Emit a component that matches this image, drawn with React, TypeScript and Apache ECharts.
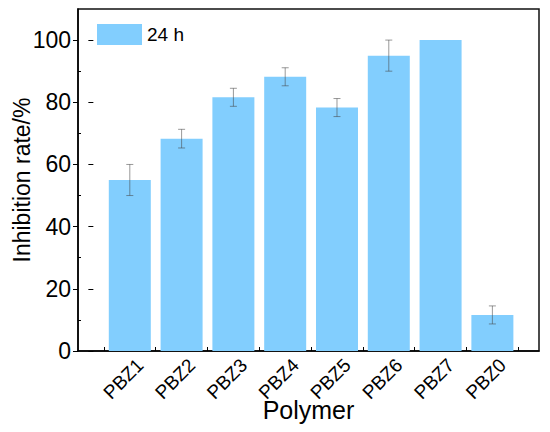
import React, { useEffect, useRef } from "react";
import * as echarts from "echarts";

const categories = ["PBZ1", "PBZ2", "PBZ3", "PBZ4", "PBZ5", "PBZ6", "PBZ7", "PBZ0"];
const values = [55.0, 68.3, 81.6, 88.2, 78.3, 95.0, 100.0, 11.6];
const errors = [5.0, 3.0, 2.9, 2.9, 2.9, 5.0, 0, 2.9];
const yMajorTicks = [0, 20, 40, 60, 80, 100];
const yMinorTicks = [10, 30, 50, 70, 90];
const seriesName = "24 h";

const FONT = "'Liberation Sans', Arial, Helvetica, sans-serif";
const BAR_COLOR = "#82CEFE";

export default function App() {
  const ref = useRef<HTMLDivElement>(null);

  useEffect(() => {
    if (!ref.current) return;
    const chart = echarts.init(ref.current, null, { renderer: "svg" });

    const positions = categories.map((_, i) => i + 1);
    const boundaries = [0, ...positions].map((p) => p + 0.5);
    const barData = values.map((v, i) => [positions[i], v]);
    const errData = values.map((v, i) => [positions[i], v, errors[i]]);
    const labelShift = 0.2; // rotated labels sit slightly right of bar centres, as in the reference

    const option: any = {
      animation: false,
      backgroundColor: "#fff",
      textStyle: { fontFamily: FONT },
      grid: {
        left: 78,
        right: 11,
        top: 9,
        bottom: 81,
        show: true,
        borderColor: "#111",
        borderWidth: 1.5,
        backgroundColor: "transparent",
        outerBoundsMode: "none",
        containLabel: false,
      },
      legend: {
        left: 92,
        top: 19,
        itemWidth: 45,
        itemHeight: 21,
        itemGap: 6,
        textStyle: { fontSize: 19, color: "#000", fontFamily: FONT },
        data: [{ name: seriesName, icon: "rect" }],
      },
      xAxis: [
        {
          type: "value",
          min: 0,
          max: 8.9,
          name: "Polymer",
          nameLocation: "middle",
          nameGap: 46,
          nameMoveOverlap: false,
          nameTextStyle: { fontSize: 25, color: "#000", fontFamily: FONT },
          axisLine: { show: true, lineStyle: { color: "#000", width: 1.5 } },
          axisTick: {
            show: true,
            inside: true,
            length: 4,
            customValues: boundaries,
            lineStyle: { color: "#000", width: 1 },
          },
          axisLabel: { show: false },
          splitLine: { show: false },
        },
        {
          type: "value",
          min: -labelShift,
          max: 8.9 - labelShift,
          position: "bottom",
          axisLine: { show: false },
          axisTick: { show: false },
          axisLabel: {
            show: true,
            customValues: positions,
            formatter: (v: number) => categories[Math.round(v) - 1] ?? "",
            rotate: 45,
            fontSize: 19,
            color: "#000",
            margin: 11,
            fontFamily: FONT,
          },
          splitLine: { show: false },
        },
      ],
      yAxis: [
        {
          type: "value",
          min: 0,
          max: 110,
          name: "Inhibition rate/%",
          nameLocation: "middle",
          nameGap: 45,
          nameMoveOverlap: false,
          nameTextStyle: { fontSize: 23, color: "#000", fontFamily: FONT },
          axisLine: { show: true, lineStyle: { color: "#000", width: 1.5 } },
          axisTick: {
            show: true,
            inside: false,
            length: 5,
            customValues: yMajorTicks,
            lineStyle: { color: "#000", width: 1 },
          },
          axisLabel: {
            customValues: yMajorTicks,
            fontSize: 23,
            color: "#000",
            margin: 7,
            fontFamily: FONT,
          },
          splitLine: { show: false },
        },
        {
          type: "value",
          min: 0,
          max: 110,
          position: "left",
          axisLine: { show: false },
          axisTick: {
            show: true,
            inside: true,
            length: 5,
            customValues: yMajorTicks,
            lineStyle: { color: "#000", width: 1 },
          },
          axisLabel: { show: false },
          splitLine: { show: false },
        },
        {
          type: "value",
          min: 0,
          max: 110,
          position: "left",
          axisLine: { show: false },
          axisTick: {
            show: true,
            inside: true,
            length: 3,
            customValues: yMinorTicks,
            lineStyle: { color: "#000", width: 1 },
          },
          axisLabel: { show: false },
          splitLine: { show: false },
        },
      ],
      series: [
        {
          name: seriesName,
          type: "bar",
          xAxisIndex: 0,
          data: barData,
          barWidth: 42,
          itemStyle: { color: BAR_COLOR },
        },
        {
          name: "err",
          type: "custom",
          xAxisIndex: 0,
          data: errData,
          z: 5,
          renderItem: (params: any, api: any) => {
            const x = api.value(0);
            const y = api.value(1);
            const e = api.value(2);
            if (!e) return { type: "group", children: [] };
            const top = api.coord([x, y + e]);
            const bot = api.coord([x, y - e]);
            const cap = 3.5;
            const style = { stroke: "rgba(70,70,70,0.55)", lineWidth: 1 };
            return {
              type: "group",
              children: [
                { type: "line", shape: { x1: top[0], y1: top[1], x2: bot[0], y2: bot[1] }, style },
                { type: "line", shape: { x1: top[0] - cap, y1: top[1], x2: top[0] + cap, y2: top[1] }, style },
                { type: "line", shape: { x1: bot[0] - cap, y1: bot[1], x2: bot[0] + cap, y2: bot[1] }, style },
              ],
            };
          },
        },
      ],
    };

    chart.setOption(option);
    return () => chart.dispose();
  }, []);

  return (
    <div
      ref={ref}
      style={{ position: "absolute", left: 0, top: 0, width: 550, height: 432 }}
    />
  );
}
